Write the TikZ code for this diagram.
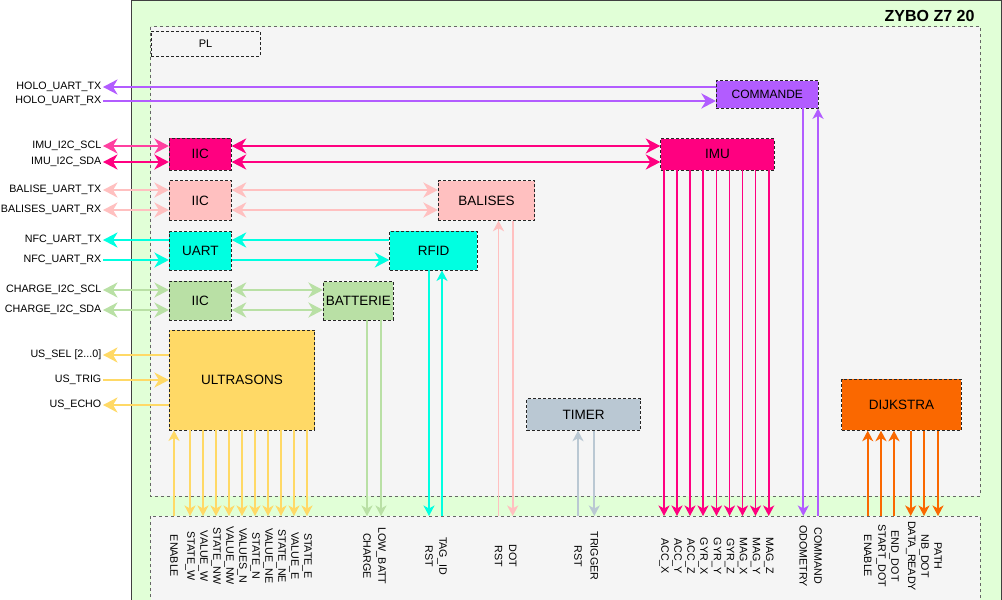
\documentclass[tikz,border=0pt]{standalone}
\usepackage{fontspec}
\setmainfont{Liberation Sans}
\usetikzlibrary{arrows.meta}
\definecolor{boardc}{RGB}{225,255,215}
\definecolor{plc}{RGB}{245,245,245}
\definecolor{cmdc}{RGB}{178,92,255}
\definecolor{imuc}{RGB}{255,0,128}
\definecolor{balc}{RGB}{255,192,192}
\definecolor{nfcc}{RGB}{0,255,225}
\definecolor{batc}{RGB}{185,224,165}
\definecolor{usc}{RGB}{255,217,102}
\definecolor{timc}{RGB}{186,200,211}
\definecolor{dijc}{RGB}{250,104,0}
\tikzset{
  blk/.style={draw=black!85, dash pattern=on 3pt off 2pt, line width=0.8pt, inner sep=1pt,
    font=\fontsize{13.5}{15}\selectfont},
  region/.style={draw=black!60, fill=plc, dash pattern=on 3pt off 3pt, line width=0.6pt},
  lbl/.style={anchor=east, inner sep=1.5pt, font=\fontsize{10.7}{12}\selectfont},
  vlbl/.style={rotate=-90, inner sep=0pt, font=\fontsize{10.7}{12}\selectfont},
  hsig/.style={line width=2.6pt, >={Stealth[length=14.5pt,width=15pt,inset=4.5pt]}},
  vsig/.style={line width=1.9pt, >={Stealth[length=10.5pt,width=11pt,inset=3pt]}}
}
\begin{document}
\begin{tikzpicture}[x=1pt,y=-1pt]
  \useasboundingbox (0,0) rectangle (1002,600);
  \clip (0,0) rectangle (1002,600);
  \draw[fill=boardc, draw=black!75, line width=1pt] (131,0.5) rectangle (1001.5,610);
  \node[anchor=east, font=\bfseries\fontsize{16}{18}\selectfont] (title) at (978,16) {ZYBO Z7 20};
  \draw[region] (150.5,26.5) rectangle (980,496);
  \draw[region] (150.5,516) rectangle (980,610);
  \coordinate (iotop) at (150.5,516);
  \node[blk, fill=plc, minimum width=109pt, minimum height=25pt, font=\fontsize{11}{13}\selectfont] (pl) at (205.5,43.5) {PL};

  \node[blk, fill=cmdc, minimum width=102pt, minimum height=27.3pt, font=\fontsize{12}{14}\selectfont] (cmd) at (767.3,94.3) {COMMANDE};
  \node[blk, fill=imuc, minimum width=62pt, minimum height=31.7pt] (imuiic) at (200.3,154.2) {IIC};
  \node[blk, fill=imuc, minimum width=113.6pt, minimum height=31.3pt] (imu) at (717.5,154.3) {IMU};
  \node[blk, fill=balc, minimum width=62pt, minimum height=39.6pt] (baliic) at (200.3,200.5) {IIC};
  \node[blk, fill=balc, minimum width=96.4pt, minimum height=39.6pt] (bal) at (486.5,200.5) {BALISES};
  \node[blk, fill=nfcc, minimum width=62pt, minimum height=38.6pt] (uart) at (200.3,251) {UART};
  \node[blk, fill=nfcc, minimum width=87.6pt, minimum height=38.7pt] (rfid) at (433.5,250.7) {RFID};
  \node[blk, fill=batc, minimum width=62pt, minimum height=38.7pt] (batiic) at (200.3,300.7) {IIC};
  \node[blk, fill=batc, minimum width=70pt, minimum height=38.3pt] (bat) at (358.3,300.8) {BATTERIE};
  \node[blk, fill=usc, minimum width=145.4pt, minimum height=100pt] (us) at (242,380) {ULTRASONS};
  \node[blk, fill=timc, minimum width=113.6pt, minimum height=31.6pt] (timer) at (583.5,414.5) {TIMER};
  \node[blk, fill=dijc, minimum width=119.6pt, minimum height=51pt] (dij) at (901.5,404.8) {DIJKSTRA};

  \foreach \y/\t/\n in {87/HOLO\_UART\_TX/holotx, 101/HOLO\_UART\_RX/holorx,
      146/IMU\_I2C\_SCL/imuscl, 162/IMU\_I2C\_SDA/imusda,
      190/BALISE\_UART\_TX/baltx, 210/BALISES\_UART\_RX/balrx,
      240/NFC\_UART\_TX/nfctx, 260/NFC\_UART\_RX/nfcrx,
      290/CHARGE\_I2C\_SCL/batscl, 310/CHARGE\_I2C\_SDA/batsda,
      380/US\_TRIG/ustrig, 405/US\_ECHO/usecho} {
    \node[lbl] (\n) at (103,\y) {\t};
  }
  \node[lbl] (ussel) at (103,355) {US\_SEL [2...0]};

  \draw[hsig, cmdc, <-] (holotx.east) -- (holotx.east -| cmd.west);
  \draw[hsig, cmdc, ->] (holorx.east) -- (holorx.east -| cmd.west);
  \draw[hsig, imuc!75!white, <->] (imuscl.east) -- (imuscl.east -| imuiic.west);
  \draw[hsig, imuc, <->] (imusda.east) -- (imusda.east -| imuiic.west);
  \draw[hsig, imuc, <->] (imuscl.east -| imuiic.east) -- (imuscl.east -| imu.west);
  \draw[hsig, imuc, <->] (imusda.east -| imuiic.east) -- (imusda.east -| imu.west);
  \draw[hsig, balc, <->] (baltx.east) -- (baltx.east -| baliic.west);
  \draw[hsig, balc, <->] (balrx.east) -- (balrx.east -| baliic.west);
  \draw[hsig, balc, <->] (baltx.east -| baliic.east) -- (baltx.east -| bal.west);
  \draw[hsig, balc, <->] (balrx.east -| baliic.east) -- (balrx.east -| bal.west);
  \draw[hsig, nfcc, <-] (nfctx.east) -- (nfctx.east -| uart.west);
  \draw[hsig, nfcc, ->] (nfcrx.east) -- (nfcrx.east -| uart.west);
  \draw[hsig, nfcc, <-] (nfctx.east -| uart.east) -- (nfctx.east -| rfid.west);
  \draw[hsig, nfcc, ->] (nfcrx.east -| uart.east) -- (nfcrx.east -| rfid.west);
  \draw[hsig, batc, <->] (batscl.east) -- (batscl.east -| batiic.west);
  \draw[hsig, batc, <->] (batsda.east) -- (batsda.east -| batiic.west);
  \draw[hsig, batc, <->] (batscl.east -| batiic.east) -- (batscl.east -| bat.west);
  \draw[hsig, batc, <->] (batsda.east -| batiic.east) -- (batsda.east -| bat.west);
  \draw[hsig, usc, <-] (ussel.east) -- (ussel.east -| us.west);
  \draw[hsig, usc, ->] (ustrig.east) -- (ustrig.east -| us.west);
  \draw[hsig, usc, <-] (usecho.east) -- (usecho.east -| us.west);

  \node[vlbl] (usen) at (174,556) {ENABLE};
  \draw[vsig, usc, ->] (usen |- iotop) -- (usen |- us.south);
  \foreach \x/\t [count=\i] in {190/STATE\_W, 203/VALUE\_W, 216/STATE\_NW, 229/VALUE\_NW,
      242/VALUES\_N, 255/STATE\_N, 268/VALUE\_NE, 281/STATE\_NE, 294/VALUE\_E, 307/STATE\_E} {
    \node[vlbl] (us\i) at (\x,556) {\t};
    \draw[vsig, usc, ->] (us\i |- us.south) -- (us\i |- iotop);
  }

  \node[vlbl] (charge) at (367,556) {CHARGE};
  \node[vlbl] (lowbatt) at (381,556) {LOW\_BATT};
  \draw[vsig, batc, ->] (charge |- bat.south) -- (charge |- iotop);
  \draw[vsig, batc, ->] (lowbatt |- bat.south) -- (lowbatt |- iotop);

  \node[vlbl] (rfidrst) at (429,556) {RST};
  \node[vlbl] (tagid) at (442,556) {TAG\_ID};
  \draw[vsig, nfcc, ->] (rfidrst |- rfid.south) -- (rfidrst |- iotop);
  \draw[vsig, nfcc, ->] (tagid |- iotop) -- (tagid |- rfid.south);

  \node[vlbl] (balrst) at (498.5,556) {RST};
  \node[vlbl] (dot) at (512.7,556) {DOT};
  \draw[vsig, balc, ->] (balrst |- iotop) -- (balrst |- bal.south);
  \draw[vsig, balc, ->] (dot |- bal.south) -- (dot |- iotop);

  \node[vlbl] (timrst) at (578,556) {RST};
  \node[vlbl] (trigger) at (594.3,556) {TRIGGER};
  \draw[vsig, timc, ->] (timrst |- iotop) -- (timrst |- timer.south);
  \draw[vsig, timc, ->] (trigger |- timer.south) -- (trigger |- iotop);

  \foreach \x/\t [count=\i] in {664/ACC\_X, 677/ACC\_Y, 690/ACC\_Z, 703/GYR\_X, 716.5/GYR\_Y,
      729.5/GYR\_Z, 742.5/MAG\_X, 755.5/MAG\_Y, 768.7/MAG\_Z} {
    \node[vlbl] (imu\i) at (\x,556) {\t};
    \draw[vsig, imuc, ->] (imu\i |- imu.south) -- (imu\i |- iotop);
  }

  \node[vlbl] (odo) at (803.3,556) {ODOMETRY};
  \node[vlbl] (command) at (818,556) {COMMAND};
  \draw[vsig, cmdc, ->] (odo |- cmd.south) -- (odo |- iotop);
  \draw[vsig, cmdc, ->] (command |- iotop) -- (command |- cmd.south);

  \foreach \x/\t [count=\i] in {867.7/ENABLE, 881/START\_DOT, 894/END\_DOT} {
    \node[vlbl] (dijin\i) at (\x,556) {\t};
    \draw[vsig, dijc, ->] (dijin\i |- iotop) -- (dijin\i |- dij.south);
  }
  \foreach \x/\t [count=\i] in {910.7/DATA\_READY, 924/NB\_DOT, 938/PATH} {
    \node[vlbl] (dijout\i) at (\x,556) {\t};
    \draw[vsig, dijc, ->] (dijout\i |- dij.south) -- (dijout\i |- iotop);
  }
\end{tikzpicture}
\end{document}
